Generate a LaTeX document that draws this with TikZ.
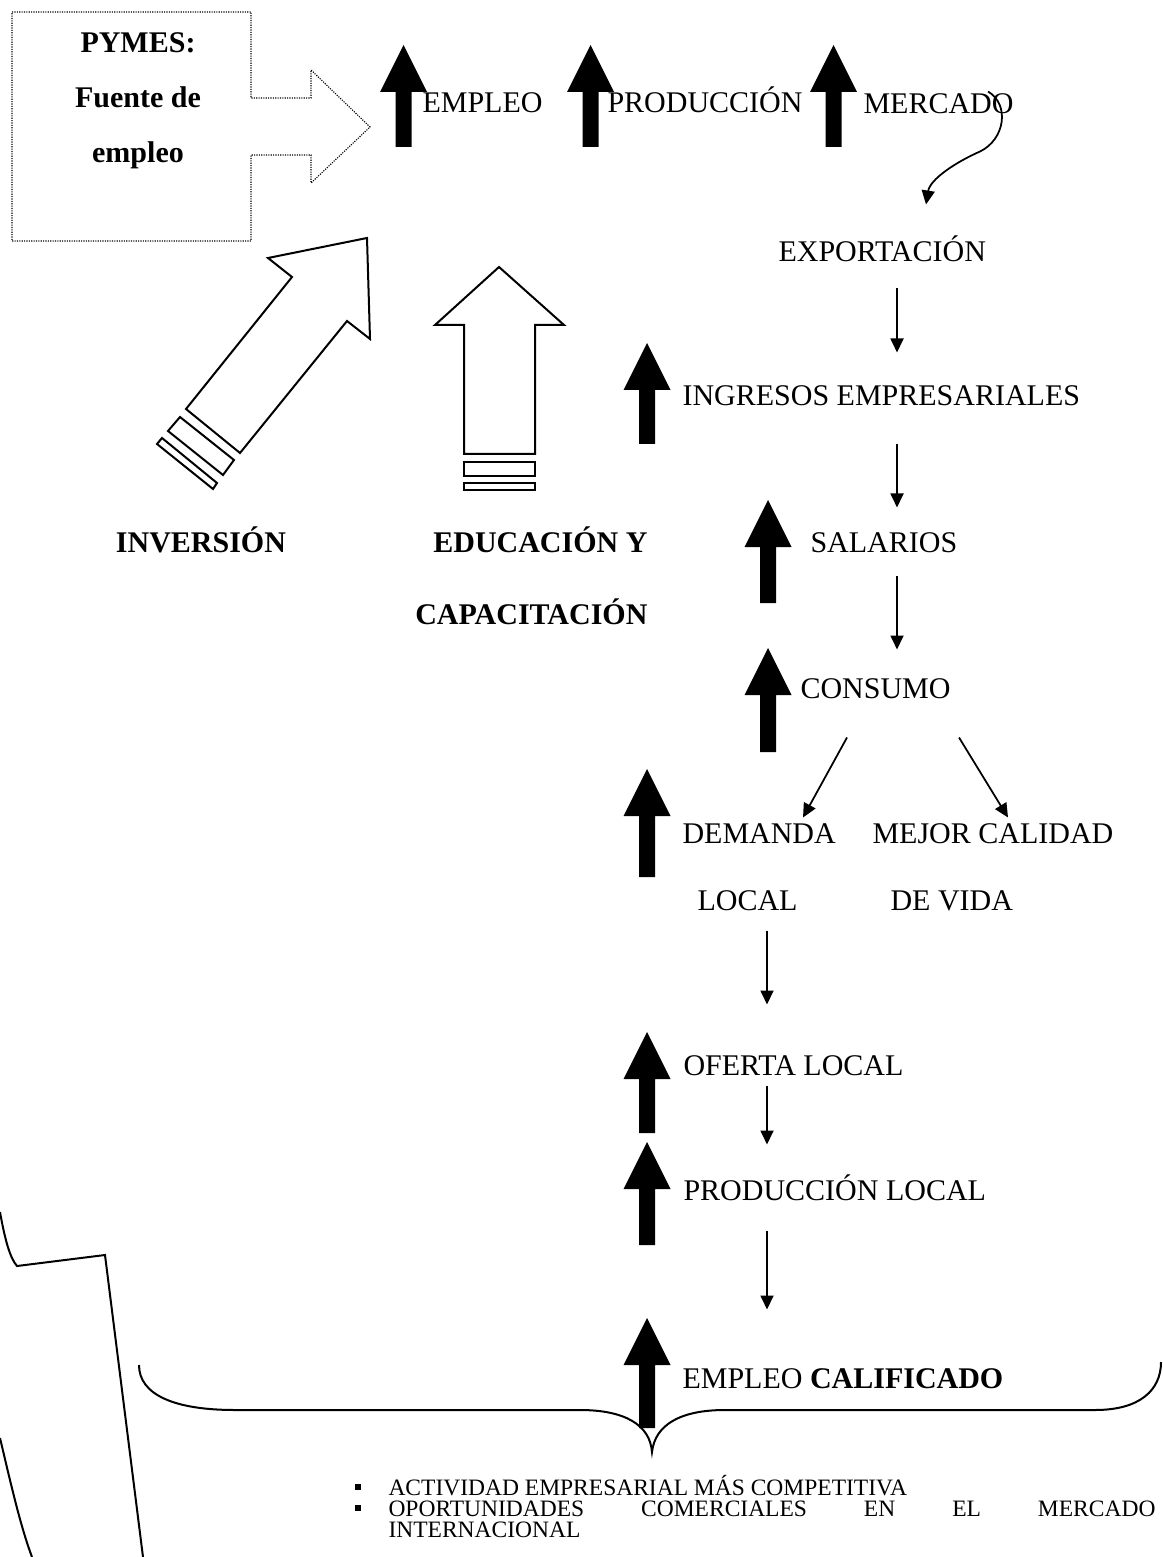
\documentclass[tikz,border=0pt]{standalone}
\usepackage{fontspec}
\setmainfont{Liberation Serif}
\usetikzlibrary{arrows.meta,positioning,calc}
\tikzset{
  >={Triangle[length=5.6pt,width=5.2pt]},
  lbl/.style={font=\fontsize{12}{14}\selectfont, inner sep=0pt, anchor=base west,
              text height=8pt, text depth=0pt},
  boldlbl/.style={font=\fontsize{12}{14}\selectfont\bfseries, inner sep=0pt},
  itemtxt/.style={font=\fontsize{9.4}{10}\selectfont, inner sep=0pt, anchor=base west},
  sq/.style={fill=black, inner sep=0pt, minimum size=2.4pt},
  flow/.style={->, line width=0.7pt},
  outline/.style={line width=0.8pt, line join=miter},
  dotline/.style={line width=0.45pt, dash pattern=on 0.45pt off 0.5pt},
}
\newcommand{\bigup}[3]{% x, tip, bottom
  \fill (#1-23.5,#2+47) -- (#1,#2) -- (#1+23.5,#2+47) -- (#1+8,#2+47)
        -- (#1+8,#3) -- (#1-8,#3) -- (#1-8,#2+47) -- cycle;}

\begin{document}
\begin{tikzpicture}[x=0.4pt,y=-0.4pt]
  \useasboundingbox (0,0) rectangle (1162,1557);
  % PYMES callout
  \draw[dotline] (12,12) -- (251,12) -- (251,98) -- (311,98) -- (311,70) -- (370,127)
        -- (311,183) -- (311,155) -- (251,155) -- (251,241) -- (12,241) -- cycle;
  \node[boldlbl, align=center, font=\fontsize{12}{22}\selectfont\bfseries] (pymes)
        at (138,101) {PYMES:\\Fuente de\\empleo};
  % top row
  \foreach \x in {403.5,590.5,833.5}{\bigup{\x}{45}{147}}
  \node[lbl] (emp) at (422,113) {EMPLEO};
  \node[lbl] (prod) at (607,113) {PRODUCCIÓN};
  \node[lbl] (mer) at (863,114) {MERCADO};
  % inversion arrow
  \draw[outline] (367,238) -- (370,339) -- (347,321) -- (240,453) -- (186,409)
        -- (292,277) -- (268,258) -- cycle;
  \draw[outline] (180,417) -- (234,460) -- (223,475) -- (168,431) -- cycle;
  \draw[outline] (162,438) -- (217,483) -- (213,489) -- (157,444) -- cycle;
  % education arrow
  \draw[outline] (499,267) -- (564,325) -- (535,325) -- (535,454) -- (464,454)
        -- (464,325) -- (435,325) -- cycle;
  \draw[outline] (464,462) rectangle (535,476);
  \draw[outline] (464,483) rectangle (535,490);
  \node[boldlbl, anchor=base] (inv) at (201,552) {INVERSIÓN};
  \node[boldlbl, anchor=base east] (edu) at (648,552) {EDUCACIÓN Y};
  \node[boldlbl, anchor=base east] (cap) at (648,624) {CAPACITACIÓN};
  % chain
  \node[lbl] (exp) at (778,262) {EXPORTACIÓN};
  \node[lbl] (ing) at (682,406) {INGRESOS EMPRESARIALES};
  \node[lbl] (sal) at (810,552) {SALARIOS};
  \node[lbl] (con) at (800,698) {CONSUMO};
  \node[lbl] (dem) at (682,843) {DEMANDA};
  \node[lbl] (deml) at (697,910) {LOCAL};
  \node[lbl] (mej) at (872,843) {MEJOR CALIDAD};
  \node[lbl] (mejv) at (890,910) {DE VIDA};
  \node[lbl] (ofe) at (683,1075) {OFERTA LOCAL};
  \node[lbl] (plo) at (683,1200) {PRODUCCIÓN LOCAL};
  \node[lbl] (ecal) at (682,1388) {EMPLEO \textbf{CALIFICADO}};
  \foreach \x/\t/\b in {647/343/444,768/500/603,768/648/752,647/769/877,
                        647/1032/1133,647/1142/1245,647/1318/1428}{\bigup{\x}{\t}{\b}}
  \coordinate (colA) at (897,0);
  \coordinate (colB) at (767,0);
  \draw[flow] ($(mer.north west)+(125,-2)$) .. controls +(22,13) and +(25,-12) .. ++(-8,60)
        .. controls +(-25,11) and +(4,-25) .. ($(exp.north west)+(148,-37)$);
  \draw[flow, shorten <=10.4pt, shorten >=13.2pt] (exp.south -| colA) -- (ing.north -| colA);
  \draw[flow, shorten <=15.2pt, shorten >=9.6pt] (ing.south -| colA) -- (sal.north -| colA);
  \draw[flow, shorten <=9.2pt, shorten >=11.2pt] (sal.south -| colA) -- (con.north -| colA);
  \draw[flow] ($(con.south west)+(47,39)$) -- ($(dem.north west)+(121,-5)$);
  \draw[flow] ($(con.south west)+(159,39)$) -- ($(mej.north west)+(136,-5)$);
  \draw[flow, shorten <=8pt, shorten >=20pt] (deml.south -| colB) -- (ofe.north -| colB);
  \draw[flow, shorten <=4pt, shorten >=14pt] (ofe.south -| colB) -- (plo.north -| colB);
  \draw[flow, shorten <=12pt, shorten >=23.2pt] (plo.south -| colB) -- (ecal.north -| colB);
  % brace
  \draw[line width=0.8pt] (139,1365) .. controls (139,1395) and (175,1410) .. (235,1410)
        -- (580,1410) .. controls (625,1410) and (650,1425) .. (652,1452)
        .. controls (655,1425) and (680,1410) .. (725,1410) -- (1095,1410)
        .. controls (1140,1410) and (1161,1390) .. (1161,1362);
  % left shape
  \draw[line width=0.8pt] (0,1212) .. controls (5,1240) and (10,1258) .. (17,1266)
        -- (105,1255) -- (143,1557);
  \draw[line width=0.8pt] (0,1438) .. controls (10,1480) and (20,1525) .. (32,1557);
  % items
  \node[itemtxt] (it1) at (388,1495) {ACTIVIDAD EMPRESARIAL MÁS COMPETITIVA};
  \node[itemtxt, text width=306.8pt] (it2) at (388,1516)
        {\noindent OPORTUNIDADES\hfill COMERCIALES\hfill EN\hfill EL\hfill MERCADO};
  \node[itemtxt] (it3) at (388,1537) {INTERNACIONAL};
  \node[sq] (bul1) at ($(it1.base west)+(-30,-8)$) {};
  \node[sq] (bul2) at ($(it2.base west)+(-30,-8)$) {};
\end{tikzpicture}
\end{document}
